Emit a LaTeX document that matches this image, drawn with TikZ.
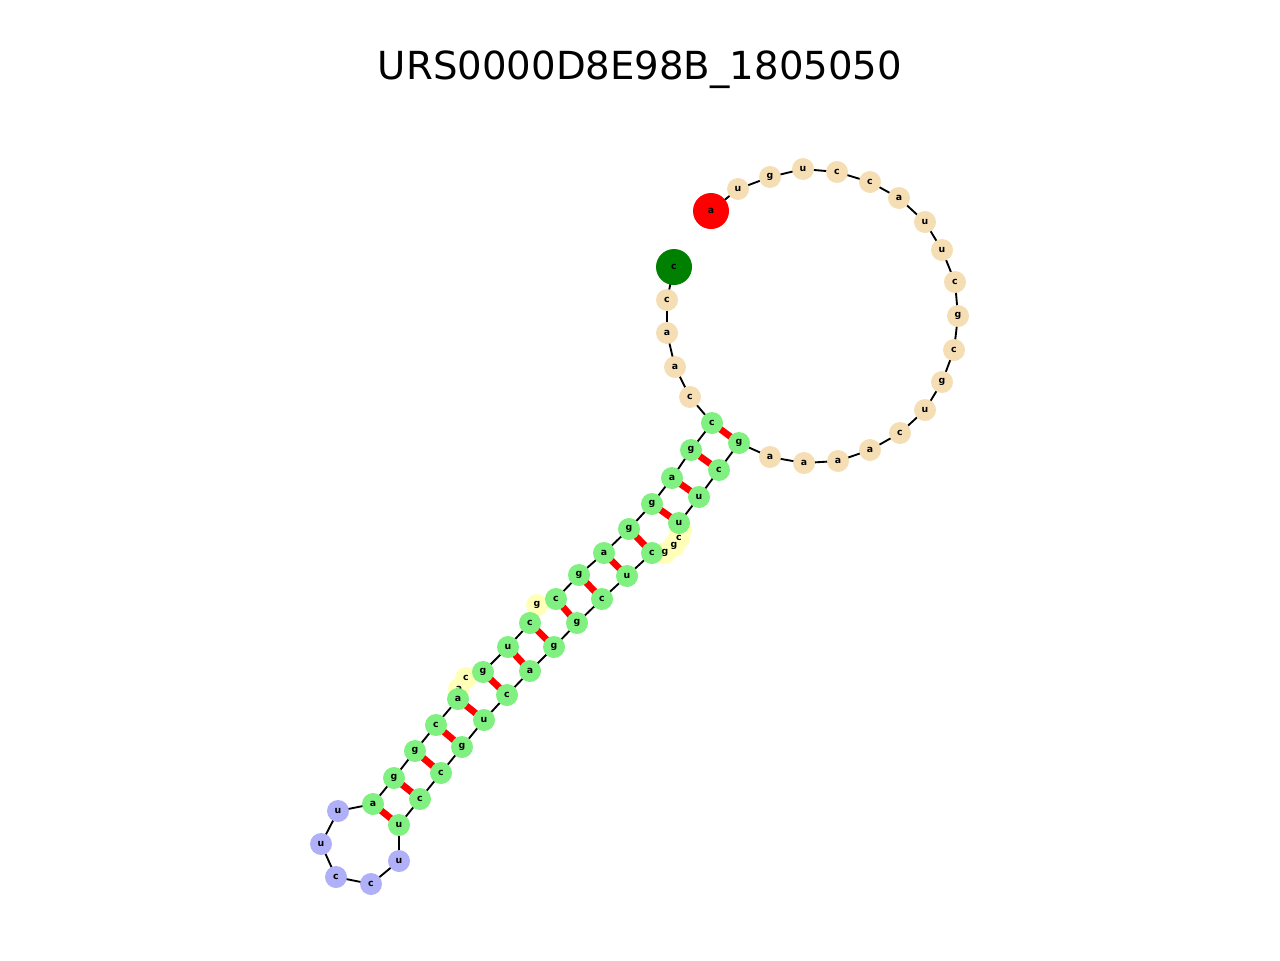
\documentclass[tikz,border=0pt]{standalone}
\usepackage{fontspec}
\setmainfont{DejaVu Sans}
\usetikzlibrary{calc}
\definecolor{wheat}{HTML}{F5DEB3}
\definecolor{lgreen}{HTML}{80F080}
\definecolor{lblue}{HTML}{B0B0F8}
\definecolor{lyel}{HTML}{FFFFB8}
\begin{document}
\begin{tikzpicture}[x=0.75pt,y=-0.75pt,
  nt/.style={circle,minimum size=16.5pt,inner sep=0pt,font=\bfseries\fontsize{7}{7}\selectfont},
  L/.style={nt,fill=wheat},
  S/.style={nt,fill=lgreen},
  H/.style={nt,fill=lblue},
  B/.style={nt},
  F/.style={nt,fill=green!50!black,minimum size=27pt},
  E/.style={nt,fill=red,minimum size=27pt},
  bulgen/.style={nt,fill=lyel},
  bb/.style={draw=black,line width=1.4pt},
  pr/.style={draw=red,line width=5pt}]
\useasboundingbox (0,0) rectangle (1280,960);
\node[font=\fontsize{29}{29}\selectfont] (title) at (640,70) {URS0000D8E98B\_1805050};
\def\seq{c/674/267/F,c/667/300/L,a/667/333/L,a/675/367/L,c/690/397/L,c/712/423/S,g/691/450/S,a/672/478/S,g/652/504/S,g/629/529/S,a/604/553/S,g/579/575/S,c/556/599/S,g/537/605/B,c/530/623/S,u/508/647/S,g/483/672/S,c/466/678/B,a/459/689/B,a/458/699/S,c/436/725/S,g/415/751/S,g/394/778/S,a/373/804/S,u/338/811/H,u/321/844/H,c/336/877/H,c/371/884/H,u/399/861/H,u/399/825/S,c/420/799/S,c/441/773/S,g/462/747/S,u/484/720/S,c/507/695/S,a/530/671/S,g/554/647/S,g/577/623/S,c/602/599/S,u/627/576/S,c/652/553/S,g/665/553/B,g/674/546/B,c/679/538/B,u/681/530/B,u/679/523/S,u/699/497/S,c/719/470/S,g/739/443/S,a/770/457/L,a/804/463/L,a/838/461/L,a/870/450/L,c/900/433/L,u/925/410/L,g/942/382/L,c/954/350/L,g/958/316/L,c/955/282/L,u/942/250/L,u/925/222/L,a/899/198/L,c/870/182/L,c/837/172/L,u/803/169/L,g/770/177/L,u/738/189/L,a/711/211/E}
\foreach \b/\x/\y/\k [count=\i] in \seq { \coordinate (p\i) at (\x,\y); }
\foreach \i [evaluate=\i as \j using int(\i+1)] in {1,...,67} { \draw[bb] (p\i) -- (p\j); }
\foreach \a/\b in {6/49,7/48,8/47,9/46,10/41,11/40,12/39,13/38,15/37,16/36,17/35,20/34,21/33,22/32,23/31,24/30} { \draw[pr] ($(p\a)!0.3!(p\b)$) -- ($(p\a)!0.7!(p\b)$); }
\foreach \i in {14,18,19,42,43,44,45} { \node[bulgen] at (p\i) {}; }
\foreach \b/\x/\y/\k [count=\i] in \seq { \node[\k] (n\i) at (p\i) {\b}; }
\end{tikzpicture}
\end{document}
